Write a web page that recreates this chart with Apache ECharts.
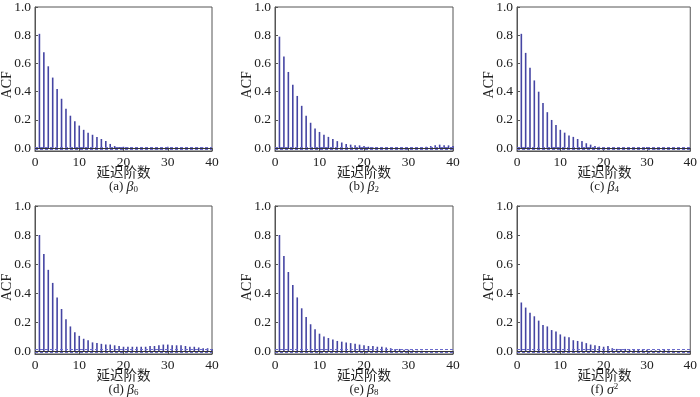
<!DOCTYPE html>
<html>
<head>
<meta charset="utf-8">
<script src="https://cdn.jsdelivr.net/npm/echarts@6/dist/echarts.min.js"></script>
<style>
html, body { margin: 0; padding: 0; background: #fff; }
#chart { width: 700px; height: 397px; }
</style>
</head>
<body>
<div id="chart"></div>
<script>
// lags 1..40
const lags = Array.from({ length: 40 }, (_, i) => i + 1);

const acfB0 = [0.81, 0.68, 0.58, 0.50, 0.42, 0.35, 0.28, 0.23, 0.19, 0.16,
  0.13, 0.11, 0.095, 0.08, 0.065, 0.05, 0.03, 0.015, 0.008, 0.01,
  0.005, 0.003, -0.003, -0.005, -0.005, -0.005, -0.007, -0.008, -0.006, 0.01,
  -0.008, -0.01, -0.008, -0.006, -0.004, -0.002, 0.002, 0.003, 0.002, 0.001];
const acfB2 = [0.79, 0.65, 0.54, 0.45, 0.37, 0.30, 0.23, 0.18, 0.14, 0.115,
  0.095, 0.08, 0.065, 0.05, 0.04, 0.03, 0.025, 0.02, 0.02, 0.015,
  0.01, 0.005, 0.003, 0.001, -0.003, -0.005, -0.005, -0.007, -0.008, -0.006,
  -0.005, -0.003, 0.005, 0.01, 0.015, 0.02, 0.025, 0.02, 0.02, 0.015];
const acfB4 = [0.81, 0.675, 0.57, 0.48, 0.40, 0.32, 0.255, 0.20, 0.165, 0.13,
  0.11, 0.09, 0.08, 0.065, 0.05, 0.035, 0.025, 0.015, 0.01, 0.005,
  0.002, -0.002, -0.004, -0.005, -0.006, -0.006, -0.005, -0.006, -0.005, 0.008,
  -0.006, -0.008, -0.006, -0.005, -0.004, -0.003, -0.002, -0.002, -0.001, -0.001];
const acfB6 = [0.80, 0.67, 0.56, 0.47, 0.37, 0.29, 0.22, 0.17, 0.13, 0.105,
  0.085, 0.075, 0.06, 0.055, 0.05, 0.045, 0.045, 0.04, 0.035, 0.03,
  0.03, 0.03, 0.03, 0.03, 0.03, 0.035, 0.035, 0.04, 0.045, 0.045,
  0.04, 0.04, 0.04, 0.035, 0.03, 0.03, 0.025, 0.02, 0.02, 0.015];
const acfB8 = [0.80, 0.655, 0.545, 0.455, 0.37, 0.295, 0.235, 0.185, 0.15, 0.12,
  0.10, 0.09, 0.08, 0.07, 0.065, 0.06, 0.055, 0.05, 0.045, 0.04,
  0.035, 0.035, 0.03, 0.03, 0.025, 0.02, 0.015, 0.015, 0.01, 0.01,
  0.005, 0.003, 0.002, 0.001, -0.001, -0.001, -0.002, -0.002, -0.002, -0.002];
const acfSigma = [0.335, 0.30, 0.265, 0.24, 0.21, 0.18, 0.17, 0.145, 0.135, 0.115,
  0.10, 0.095, 0.075, 0.07, 0.065, 0.055, 0.045, 0.04, 0.035, 0.03,
  0.035, 0.02, 0.015, 0.015, 0.015, 0.01, 0.01, 0.01, 0.01, 0.01,
  0.005, 0.005, 0.005, 0.01, 0.005, 0.003, -0.002, 0.002, 0.003, 0.002];

const confBound = 0.015;
const xLabel = '延迟阶数';
const yLabel = 'ACF';
const yTicks = [0, 0.2, 0.4, 0.6, 0.8, 1.0];
const captions = [
  '(a) {i|β}{sub|0}', '(b) {i|β}{sub|2}', '(c) {i|β}{sub|4}',
  '(d) {i|β}{sub|6}', '(e) {i|β}{sub|8}', '(f) {i|σ}{sup|2}'
];
const seriesList = [acfB0, acfB2, acfB4, acfB6, acfB8, acfSigma];

// panel geometry (px)
const lefts = [35, 275, 517];
const widths = [177, 178, 175];
const tops = [4, 206];
const heights = [147, 148];

const serif = '"Liberation Serif", "DejaVu Serif", serif';
const cjk = '"Noto Sans CJK SC", sans-serif';
const barColor = '#4545a3';

const grid = [], xAxis = [], yAxis = [], series = [], graphic = [];

seriesList.forEach((vals, k) => {
  const col = k % 3, row = Math.floor(k / 3);
  const L = lefts[col], T = tops[row], W = widths[col], H = heights[row];
  grid.push({
    left: L, top: T, width: W, height: H,
    show: true, borderColor: '#555', borderWidth: 1
  });
  xAxis.push({
    gridIndex: k, type: 'value', min: 0, max: 40, interval: 10,
    axisLine: { onZero: false, lineStyle: { color: '#555' } },
    axisTick: { inside: true, length: 3, lineStyle: { color: '#555' } },
    splitLine: { show: false },
    axisLabel: { color: '#222', fontFamily: serif, fontSize: 13.5, margin: 4 }
  });
  yAxis.push({
    gridIndex: k, type: 'value', min: -0.02, max: 1.0,
    axisLine: { lineStyle: { color: '#555' } },
    axisTick: { inside: true, length: 3, lineStyle: { color: '#555' }, customValues: yTicks },
    splitLine: { show: false },
    axisLabel: {
      color: '#222', fontFamily: serif, fontSize: 13.5, margin: 4,
      customValues: yTicks,
      formatter: v => v.toFixed(1)
    }
  });
  series.push({
    type: 'bar', xAxisIndex: k, yAxisIndex: k,
    data: lags.map((l, i) => [l, vals[i]]),
    barWidth: 1.6,
    itemStyle: { color: barColor },
    silent: true,
    markLine: {
      symbol: 'none', silent: true, label: { show: false },
      data: [
        { yAxis: confBound, lineStyle: { type: [3, 2], color: '#6a6acb', width: 1 } },
        { yAxis: -confBound, lineStyle: { type: [3, 2], color: '#6a6acb', width: 1 } },
        { yAxis: 0, lineStyle: { type: 'solid', color: '#333', width: 1 } }
      ]
    }
  });
  const cx = L + W / 2;
  const by = T + H;
  graphic.push({
    type: 'text', x: cx, y: by + 21,
    style: { text: xLabel, font: '13.5px ' + cjk, fill: '#222', align: 'center', verticalAlign: 'middle' }
  });
  graphic.push({
    type: 'text', x: cx, y: by + 36,
    style: {
      text: captions[k], align: 'center', verticalAlign: 'middle',
      font: '13px ' + serif, fill: '#222',
      rich: {
        i: { fontFamily: serif, fontStyle: 'italic', fontSize: 14, fill: '#222' },
        sub: { fontFamily: serif, fontSize: 9, fill: '#222', padding: [6, 0, 0, 0] },
        sup: { fontFamily: serif, fontSize: 9, fill: '#222', padding: [0, 0, 6, 0] }
      }
    }
  });
  graphic.push({
    type: 'text', x: L - 28, y: T + H * 0.55, rotation: Math.PI / 2,
    style: { text: yLabel, font: '14px ' + serif, fill: '#222', align: 'center', verticalAlign: 'middle' }
  });
});

const chart = echarts.init(document.getElementById('chart'), null, { renderer: 'canvas' });
chart.setOption({
  animation: false,
  backgroundColor: '#fff',
  grid, xAxis, yAxis, series, graphic
});
</script>
</body>
</html>
